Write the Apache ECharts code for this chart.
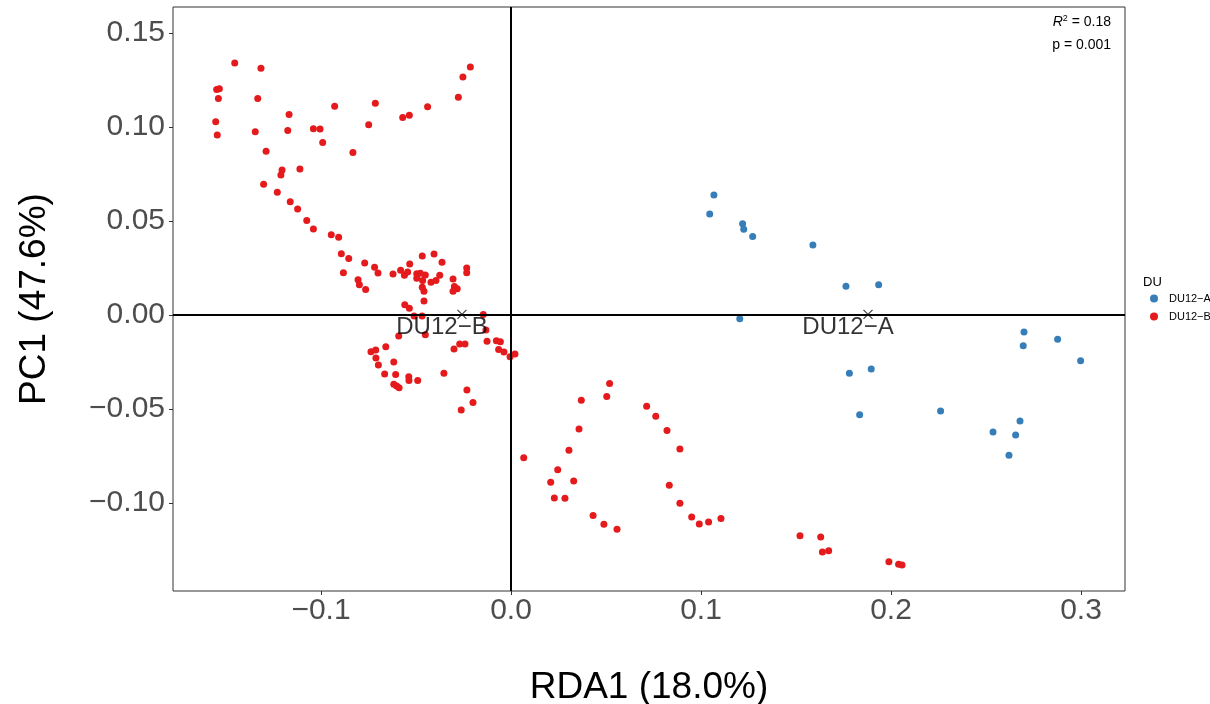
<!DOCTYPE html>
<html>
<head>
<meta charset="utf-8">
<script src="https://cdn.jsdelivr.net/npm/echarts@6/dist/echarts.min.js"></script>
<style>html,body{margin:0;padding:0;background:#fff;overflow:hidden}#c{width:1210px;height:704px}</style>
</head>
<body>
<div id="c"></div>
<script>
// ---- data ----
const groupNames = ['DU12−A', 'DU12−B'];
const groupColors = ['#377EB8', '#E41A1C'];
const xTicks = [-0.1, 0.0, 0.1, 0.2, 0.3];
const yTicks = [-0.10, -0.05, 0.00, 0.05, 0.10, 0.15];
const duA = [
  [0.1068, 0.0638], [0.1046, 0.0537], [0.1219, 0.0486], [0.1225, 0.0456], [0.1272, 0.0417],
  [0.1589, 0.0372], [0.1763, 0.0153], [0.1935, 0.0161], [0.1204, -0.0020], [0.1781, -0.0310],
  [0.1896, -0.0287], [0.2700, -0.0090], [0.2696, -0.0163], [0.2877, -0.0129], [0.2998, -0.0243],
  [0.2261, -0.0511], [0.2679, -0.0564], [0.2537, -0.0622], [0.2656, -0.0638], [0.2621, -0.0746],
  [0.1835, -0.0530]
];
const duB = [
  [-0.1454, 0.1340], [-0.1316, 0.1312], [-0.1549, 0.1200], [-0.1535, 0.1204], [-0.1540, 0.1151],
  [-0.1333, 0.1151], [-0.1554, 0.1028], [-0.1546, 0.0957], [-0.1346, 0.0975], [-0.1168, 0.1066],
  [-0.1175, 0.0982], [-0.1289, 0.0871], [-0.1205, 0.0771], [-0.1211, 0.0745], [-0.1111, 0.0777],
  [-0.1040, 0.0991], [-0.1005, 0.0989], [-0.0991, 0.0918], [-0.0928, 0.1110], [-0.0832, 0.0864],
  [-0.0749, 0.1012], [-0.0714, 0.1126], [-0.0570, 0.1051], [-0.0535, 0.1062], [-0.0439, 0.1108],
  [-0.0277, 0.1158], [-0.0253, 0.1266], [-0.0214, 0.1319],
  [-0.1302, 0.0695], [-0.1230, 0.0653], [-0.1162, 0.0603], [-0.1123, 0.0564], [-0.1075, 0.0502],
  [-0.1040, 0.0457], [-0.0946, 0.0427], [-0.0907, 0.0413], [-0.0893, 0.0326], [-0.0854, 0.0301],
  [-0.0882, 0.0225], [-0.0770, 0.0277], [-0.0718, 0.0254], [-0.0700, 0.0223], [-0.0805, 0.0188],
  [-0.0798, 0.0161], [-0.0765, 0.0135], [-0.0621, 0.0218], [-0.0581, 0.0238], [-0.0561, 0.0211],
  [-0.0544, 0.0229], [-0.0533, 0.0271], [-0.0496, 0.0220], [-0.0477, 0.0222], [-0.0496, 0.0195],
  [-0.0451, 0.0213], [-0.0467, 0.0314], [-0.0405, 0.0324], [-0.0363, 0.0280], [-0.0465, 0.0184],
  [-0.0421, 0.0174], [-0.0395, 0.0183], [-0.0375, 0.0211], [-0.0467, 0.0147], [-0.0458, 0.0126],
  [-0.0458, 0.0074], [-0.0305, 0.0191], [-0.0298, 0.0151], [-0.0283, 0.0140], [-0.0305, 0.0126],
  [-0.0233, 0.0250], [-0.0233, 0.0225], [-0.0559, 0.0055], [-0.0535, 0.0036], [-0.0146, 0.0002],
  [-0.0510, -0.0005], [-0.0468, -0.0005], [-0.0451, -0.0105], [-0.0591, -0.0112], [-0.0132, -0.0080],
  [-0.0126, -0.0140], [-0.0077, -0.0137], [-0.0056, -0.0142], [-0.0065, -0.0183], [-0.0037, -0.0197],
  [-0.0005, -0.0222], [0.0021, -0.0207], [-0.0270, -0.0154], [-0.0242, -0.0154], [-0.0300, -0.0181],
  [-0.0737, -0.0195], [-0.0712, -0.0186], [-0.0659, -0.0169], [-0.0711, -0.0229], [-0.0698, -0.0266],
  [-0.0617, -0.0250], [-0.0665, -0.0314], [-0.0607, -0.0316], [-0.0538, -0.0328], [-0.0537, -0.0349],
  [-0.0491, -0.0348], [-0.0617, -0.0369], [-0.0602, -0.0378], [-0.0589, -0.0387], [-0.0353, -0.0310],
  [-0.0232, -0.0399], [-0.0200, -0.0465], [-0.0262, -0.0505],
  [0.0067, -0.0759], [0.0519, -0.0365], [0.0504, -0.0433], [0.0370, -0.0454], [0.0358, -0.0606],
  [0.0305, -0.0720], [0.0246, -0.0823], [0.0209, -0.0890], [0.0330, -0.0883], [0.0228, -0.0973],
  [0.0284, -0.0975], [0.0432, -0.1067], [0.0489, -0.1113], [0.0558, -0.1140], [0.0714, -0.0486],
  [0.0762, -0.0539], [0.0821, -0.0615], [0.0889, -0.0713], [0.0833, -0.0906], [0.0889, -0.1002],
  [0.0951, -0.1074], [0.0991, -0.1112], [0.1040, -0.1101], [0.1105, -0.1083],
  [0.1521, -0.1174], [0.1630, -0.1181], [0.1639, -0.1261], [0.1672, -0.1254], [0.1989, -0.1312],
  [0.2040, -0.1326], [0.2058, -0.1330]
];
const centroidLabels = ['DU12−B', 'DU12−A'];
const centroids = [[-0.0258, 0.0003], [0.1879, 0.0003]];
const statLines = ['0.18', '0.001'];
const xTitle = 'RDA1 (18.0%)';
const yTitle = 'PC1 (47.6%)';
const legendTitle = 'DU';

const FONT = '"Liberation Sans", Arial, sans-serif';
const fmt = (v, d) => (v < 0 ? '−' : '') + Math.abs(v).toFixed(d);

const chart = echarts.init(document.getElementById('c'), null, {renderer: 'canvas', width: 1210, height: 704});
chart.setOption({
  animation: false,
  backgroundColor: '#fff',
  textStyle: {fontFamily: FONT},
  grid: {left: 173, right: 85, top: 7, bottom: 113, show: true, borderColor: '#333', borderWidth: 1,
    containLabel: false, outerBoundsMode: 'none'},
  xAxis: {
    type: 'value', min: -0.17789, max: 0.32316,
    splitLine: {show: false},
    axisLine: {show: false, onZero: false},
    axisTick: {show: true, length: 4, lineStyle: {color: '#333', width: 1}, customValues: xTicks},
    axisLabel: {show: true, fontSize: 30, color: '#4D4D4D', margin: 5, fontFamily: FONT,
      customValues: xTicks, formatter: v => fmt(v, 1)},
    name: xTitle, nameLocation: 'middle', nameGap: 78,
    nameTextStyle: {fontSize: 37, color: '#000', fontFamily: FONT}
  },
  yAxis: {
    type: 'value', min: -0.14681, max: 0.16383,
    splitLine: {show: false},
    axisLine: {show: false, onZero: false},
    axisTick: {show: true, length: 4, lineStyle: {color: '#333', width: 1}, customValues: yTicks},
    axisLabel: {show: true, fontSize: 30, color: '#4D4D4D', margin: 8, fontFamily: FONT,
      customValues: yTicks, formatter: v => fmt(v, 2)},
    name: yTitle, nameLocation: 'middle', nameGap: 120, nameRotate: 90,
    nameTextStyle: {fontSize: 37, color: '#000', fontFamily: FONT}
  },
  legend: {
    orient: 'vertical', left: 1145, top: 288, itemGap: 7,
    itemWidth: 8, itemHeight: 8, icon: 'circle',
    textStyle: {fontSize: 11, color: '#000', fontFamily: FONT, padding: [0,0,0,6]},
    data: groupNames
  },
  graphic: [
    {type: 'text', left: 1143, top: 276, style: {text: legendTitle, fontSize: 13, fill: '#000', fontFamily: FONT}},
    {type: 'text', right: 99, top: 14, style: {
      rich: {i: {fontStyle: 'italic', fontSize: 14, fontFamily: FONT}, s: {fontSize: 9, verticalAlign: 'top', padding: [0,0,8,0], fontFamily: FONT}, n: {fontSize: 14, fontFamily: FONT}},
      text: '{i|R}{s|2}{n| = ' + statLines[0] + '}', fill: '#000', align: 'right'}},
    {type: 'text', right: 99, top: 38, style: {text: 'p = ' + statLines[1], fontSize: 14, fill: '#000', fontFamily: FONT, align: 'right'}}
  ],
  series: [
    {
      name: groupNames[0], type: 'scatter', data: duA, symbolSize: 7,
      itemStyle: {color: groupColors[0], opacity: 1}, z: 3
    },
    {
      name: groupNames[1], type: 'scatter', data: duB, symbolSize: 7,
      itemStyle: {color: groupColors[1], opacity: 1}, z: 3
    },
    {
      name: 'zero', type: 'scatter', data: [], silent: true,
      markLine: {
        silent: true, symbol: ['none', 'none'], animation: false,
        label: {show: false},
        lineStyle: {color: '#000', width: 2, type: 'solid'},
        data: [{xAxis: 0}, {yAxis: 0}]
      }, z: 2
    },
    {
      name: 'centroid', type: 'scatter', silent: true, z: 5,
      data: centroids.map((c, i) => ({value: c, name: centroidLabels[i]})),
      symbol: 'path://M0,0L10,10M10,0L0,10', symbolSize: 9,
      itemStyle: {color: 'none', borderColor: '#111', borderWidth: 1.2},
      label: {show: true, position: 'inside', offset: [-20, 13], formatter: p => p.name,
        fontSize: 24, color: '#000', fontFamily: FONT}
    }
  ]
});
</script>
</body>
</html>
